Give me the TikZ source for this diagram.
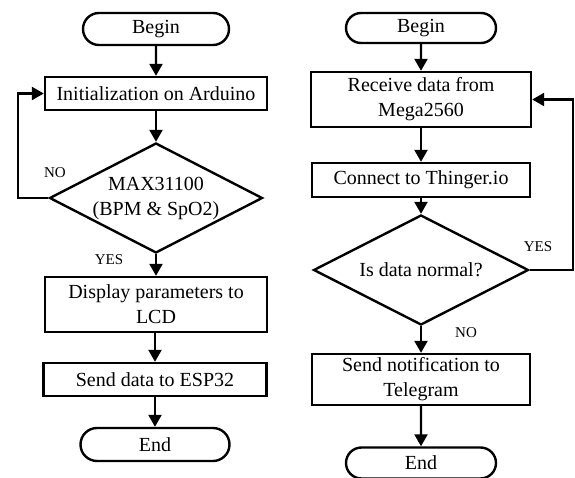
\documentclass[tikz,border=0pt]{standalone}
\usepackage{fontspec}
\setmainfont{Liberation Serif}
\usetikzlibrary{shapes.geometric,shapes.misc,arrows.meta}
\begin{document}
\begin{tikzpicture}[x=1pt,y=-1pt,
  every node/.style={font=\fontsize{20}{25}\selectfont},
  proc/.style={draw,line width=2.4pt,rectangle,inner sep=0pt,align=center},
  term/.style={draw,line width=2.4pt,rounded rectangle,inner sep=0pt,align=center},
  dia/.style={draw,line width=2.4pt,diamond,inner sep=0pt},
  lbl/.style={font=\fontsize{15}{18}\selectfont},
  arr/.style={line width=2.4pt,-{Triangle[length=12pt,width=13pt]}},
  ln/.style={line width=2.4pt}]
\useasboundingbox (0,0) rectangle (575,478);
% left column
\node[term,minimum width=146pt,minimum height=32pt] (b1) at (156,29) {Begin};
\node[proc,minimum width=222pt,minimum height=33pt] (i1) at (156,93.5) {Initialization on Arduino};
\node[dia,minimum width=213pt,minimum height=110pt] (d1) at (156,198) {};
\node[align=center] (d1t) at (d1.center) {MAX31100\\(BPM \& SpO2)};
\node[proc,minimum width=222pt,minimum height=55pt] (p1) at (156,304.5) {Display parameters to\\LCD};
\node[proc,minimum width=223pt,minimum height=33pt] (s1) at (155,379.5) {Send data to ESP32};
\node[term,minimum width=149pt,minimum height=33pt] (e1) at (155,444.5) {End};
\node[lbl] (no1) at (55,173) {NO};
\node[lbl] (yes1) at (109,260) {YES};
\coordinate (lc) at (18,198);
\draw[arr] (b1) -- (i1);
\draw[arr] (i1) -- (d1);
\draw[arr] (d1) -- (p1);
\draw[arr] (p1.south -| s1) -- (s1);
\draw[arr] (s1) -- (e1);
\draw[arr] (d1.west) -- (lc) |- (i1.west);
% right column
\node[term,minimum width=150pt,minimum height=30pt] (b2) at (421,28) {Begin};
\node[proc,minimum width=220pt,minimum height=55pt] (r2) at (421,99.5) {Receive data from\\Mega2560};
\node[proc,minimum width=218pt,minimum height=34pt] (c2) at (421,180) {Connect to Thinger.io};
\node[dia,minimum width=215pt,minimum height=110pt] (d2) at (421,270) {};
\node (d2t) at (d2.center) {Is data normal?};
\node[proc,minimum width=218pt,minimum height=51pt] (t2) at (421,379.5) {Send notification to\\Telegram};
\node[term,minimum width=150pt,minimum height=31pt] (e2) at (421,463) {End};
\node[lbl] (yes2) at (538,247) {YES};
\node[lbl] (no2) at (466,333) {NO};
\coordinate (rc) at (573,270);
\draw[arr] (b2) -- (r2);
\draw[arr] (r2) -- (c2);
\draw[arr] (c2) -- (d2);
\draw[arr] (d2) -- (t2);
\draw[arr] (t2) -- (e2);
\draw[arr] (d2.east) -- (rc) |- (r2.east);
\end{tikzpicture}
\end{document}
